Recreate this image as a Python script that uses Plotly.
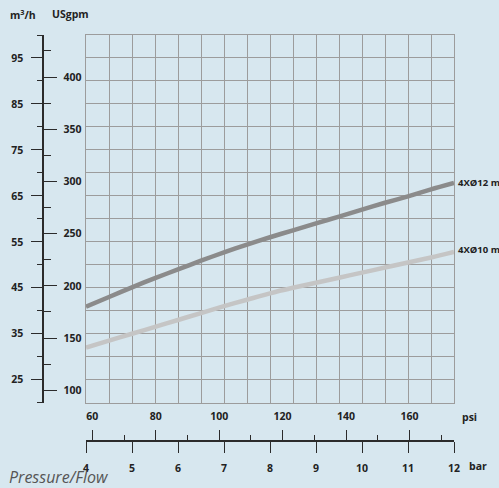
import plotly.graph_objects as go

# ---- data ----
bar = [4, 4.5, 5, 5.5, 6, 6.5, 7, 7.5, 8, 8.5, 9, 9.5, 10, 10.5, 11, 11.5, 12]
flow_12mm = [40.9, 43.0, 45.1, 47.1, 49.0, 50.9, 52.7, 54.4, 56.0, 57.5, 59.0, 60.5, 62.0, 63.5, 64.9, 66.4, 67.8]
flow_10mm = [32.0, 33.5, 35.0, 36.5, 38.0, 39.5, 41.0, 42.4, 43.8, 45.0, 46.1, 47.2, 48.3, 49.4, 50.5, 51.6, 52.8]
series_names = ["4XØ12 mm", "4XØ10 mm"]
m3h_ticks = [25, 35, 45, 55, 65, 75, 85, 95]
gpm_ticks = [100, 150, 200, 250, 300, 350, 400]
bar_ticks = [4, 5, 6, 7, 8, 9, 10, 11, 12]
psi_ticks = [60, 80, 100, 120, 140, 160]

M3H_TO_GPM = 4.402868
BAR_TO_PSI = 14.5038
Y_RANGE = [20, 100]
X_RANGE = [4, 12]

W, H = 499, 488
ML, MR, MT, MB = 10, 45, 35, 5
PW, PH = W - ML - MR, H - MT - MB

def px(p):
    return (p - ML) / PW

def py(p):
    return (H - MB - p) / PH

BG = "#d7e7ef"
GRID = "#9c9c9c"
AX = "#2b2b2b"
FONT = "Open Sans"
tickfont = dict(family=FONT, size=10.5, color="#222", weight="bold")

xdom = [px(86), 1]
ydom = [py(402.7), 1]

fig = go.Figure()
fig.add_trace(go.Scatter(x=bar, y=flow_12mm, mode="lines", name=series_names[0],
                         line=dict(color="#8b8b8b", width=4.5, shape="spline", smoothing=0.8),
                         showlegend=False))
fig.add_trace(go.Scatter(x=bar, y=flow_10mm, mode="lines", name=series_names[1],
                         line=dict(color="#c5c5c5", width=4.5, shape="spline", smoothing=0.8),
                         showlegend=False))
# invisible traces so the secondary axes are drawn
for xa, ya in [("x", "y2"), ("x", "y3"), ("x2", "y"), ("x3", "y")]:
    fig.add_trace(go.Scatter(x=[None], y=[None], xaxis=xa, yaxis=ya,
                             showlegend=False, hoverinfo="skip"))

fig.update_layout(
    width=W, height=H,
    margin=dict(l=ML, r=MR, t=MT, b=MB),
    paper_bgcolor=BG, plot_bgcolor=BG,
    showlegend=False,
    xaxis=dict(domain=xdom, range=X_RANGE, dtick=0.5, tick0=4, showgrid=True,
               gridcolor=GRID, gridwidth=1.3, showticklabels=False, ticks="",
               showline=True, mirror=True, linecolor=GRID, linewidth=1.3,
               zeroline=False, fixedrange=True),
    yaxis=dict(domain=ydom, range=Y_RANGE, dtick=5, tick0=20, showgrid=True,
               gridcolor=GRID, gridwidth=1.3, showticklabels=False, ticks="",
               showline=True, mirror=True, linecolor=GRID, linewidth=1.3,
               zeroline=False, fixedrange=True),
    yaxis2=dict(overlaying="y", anchor="free", position=px(43.3), side="left",
                domain=ydom, range=Y_RANGE, tickmode="array", tickvals=m3h_ticks,
                ticks="outside", ticklen=11, tickwidth=1.3, tickcolor=AX,
                minor=dict(tickmode="linear", tick0=20, dtick=10, ticks="outside",
                           ticklen=5.5, tickwidth=1.3, tickcolor=AX, showgrid=False),
                showline=True, linecolor=AX, linewidth=2, showgrid=False,
                zeroline=False, tickfont=tickfont, ticklabelstandoff=6),
    yaxis3=dict(overlaying="y", anchor="free", position=px(43.3), side="right",
                domain=ydom, range=[Y_RANGE[0] * M3H_TO_GPM, Y_RANGE[1] * M3H_TO_GPM],
                tickmode="array", tickvals=gpm_ticks,
                ticks="outside", ticklen=13, tickwidth=1.3, tickcolor=AX,
                minor=dict(tickmode="linear", tick0=125, dtick=50, ticks="outside",
                           ticklen=7, tickwidth=1.3, tickcolor=AX, showgrid=False),
                showline=False, showgrid=False, zeroline=False,
                tickfont=tickfont, ticklabelstandoff=4),
    xaxis2=dict(overlaying="x", anchor="free", position=py(441), side="bottom",
                domain=xdom, range=X_RANGE, tickmode="array", tickvals=bar_ticks,
                ticks="outside", ticklen=11, tickwidth=1.3, tickcolor=AX,
                showline=True, linecolor=AX, linewidth=1.8, showgrid=False,
                zeroline=False, tickfont=tickfont, ticklabelstandoff=6),
    xaxis3=dict(overlaying="x", anchor="free", position=py(441), side="top",
                domain=xdom, range=[X_RANGE[0] * BAR_TO_PSI, X_RANGE[1] * BAR_TO_PSI],
                tickmode="array", tickvals=psi_ticks,
                ticks="outside", ticklen=11, tickwidth=1.3, tickcolor=AX,
                minor=dict(tickmode="linear", tick0=70, dtick=20, ticks="outside",
                           ticklen=6, tickwidth=1.3, tickcolor=AX, showgrid=False),
                showline=False, showgrid=False, zeroline=False,
                tickfont=tickfont, ticklabelstandoff=6),
)

labfont = dict(family=FONT, size=10.5, color="#222", weight="bold")
serfont = dict(family=FONT, size=9.5, color="#222", weight="bold")
anns = [
    ("m<sup>3</sup>/h", 8, 14, labfont),
    ("USgpm", 50, 14, labfont),
    ("psi", 460, 417, labfont),
    ("bar", 467, 466, labfont),
    (series_names[0], 456, 182, serfont),
    (series_names[1], 456, 249, serfont),
    ("Pressure/Flow", 7, 477, dict(family=FONT, size=16, color="#555", style="italic")),
]
for text, x, y, f in anns:
    fig.add_annotation(text=text, x=px(x), y=py(y), xref="paper", yref="paper",
                       xanchor="left", yanchor="middle", showarrow=False, font=f)

fig.write_html("out.html", config={"displayModeBar": False},
               post_script="document.body.style.margin='0';document.body.style.overflow='hidden';")
